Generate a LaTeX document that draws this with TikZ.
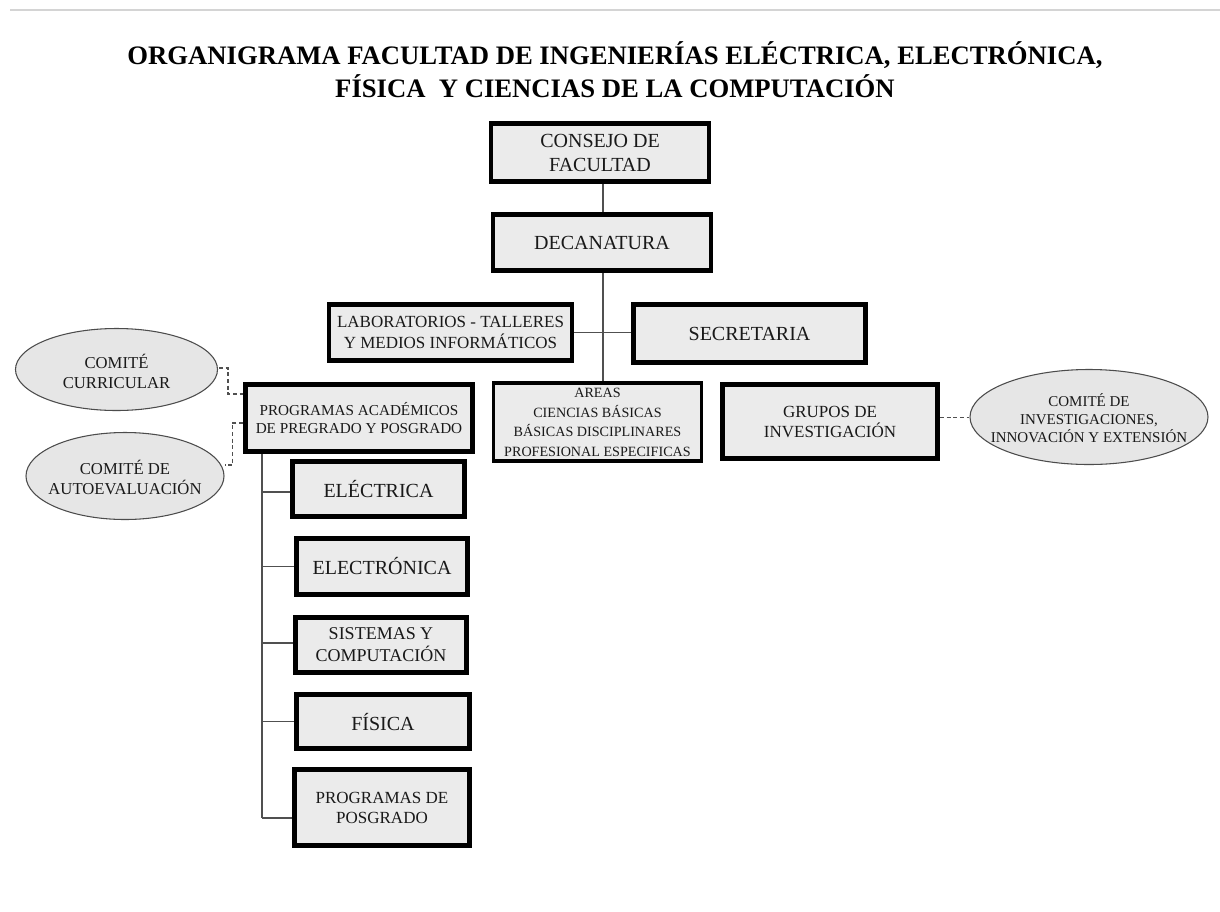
\documentclass[tikz,border=0pt]{standalone}
\usepackage{fontspec}
\setmainfont{Liberation Serif}
\usetikzlibrary{shapes.geometric,calc,backgrounds}
\definecolor{boxfill}{HTML}{EBEBEB}
\definecolor{ellfill}{HTML}{E6E6E6}
\definecolor{linec}{HTML}{505050}
\definecolor{rulec}{HTML}{D4D4D4}
\newcommand{\fsz}[2]{\fontsize{#1pt}{#2pt}\selectfont}
\begin{document}
\begin{tikzpicture}[x=0.75pt,y=-0.75pt,
  orgbox/.style={draw=black, line width=3.6pt, fill=boxfill, align=center, inner sep=0pt, text=black!90},
  comite/.style={ellipse, draw=black!70, line width=0.8pt, fill=ellfill, inner sep=0pt},
  ctext/.style={align=center, inner sep=0pt, text=black!90},
  sz/.style n args={2}{minimum width=#1*0.75pt, minimum height=#2*0.75pt},
  link/.style={draw=linec, line width=0.9pt},
  dlink/.style={draw=linec, line width=0.9pt, dash pattern=on 3pt off 2pt}]
\useasboundingbox (0,0) rectangle (1220,911);

\node[font=\bfseries\fsz{20}{24.75}, align=center, text=black] (title) at (615,69.5)
  {ORGANIGRAMA FACULTAD DE INGENIERÍAS ELÉCTRICA, ELECTRÓNICA,\\FÍSICA~ Y CIENCIAS DE LA COMPUTACIÓN};

% main boxes
\node[orgbox, sz={218}{58}, font=\fsz{15}{18}] (cons) at (600,152.5) {CONSEJO DE\\FACULTAD};
\node[orgbox, sz={218}{56}, font=\fsz{15}{18}] (dec) at (602,242.5) {DECANATURA};
\node[orgbox, sz={243}{56}, font=\fsz{12.75}{15.75}] (lab) at (450.5,332.5) {LABORATORIOS - TALLERES\\Y MEDIOS INFORMÁTICOS};
\node[orgbox, sz={232}{58}, font=\fsz{15}{18}] (sec) at (749.5,333.5) {SECRETARIA};
\node[orgbox, sz={227}{67}, font=\fsz{11.4}{13.5}] (prog) at (359,418) {PROGRAMAS ACADÉMICOS\\DE PREGRADO Y POSGRADO};
\node[orgbox, line width=2.6pt, sz={208}{78}] (areas) at (597.5,422) {};
\node[ctext, font=\fsz{10.6}{14.6}] (areastext) at (597.5,422.5) {AREAS\\CIENCIAS BÁSICAS\\BÁSICAS DISCIPLINARES\\PROFESIONAL ESPECIFICAS};
\node[orgbox, sz={215}{74}, font=\fsz{12.75}{15}] (grupos) at (830,421.5) {GRUPOS DE\\INVESTIGACIÓN};

% program boxes
\node[orgbox, sz={172}{55}, font=\fsz{15}{18}] (elec) at (378.5,489) {ELÉCTRICA};
\node[orgbox, sz={171}{56}, font=\fsz{15}{18}] (elecn) at (382,566.5) {ELECTRÓNICA};
\node[orgbox, sz={171}{55}, font=\fsz{13.5}{16.5}] (sis) at (381,645) {SISTEMAS Y\\COMPUTACIÓN};
\node[orgbox, sz={173}{54}, font=\fsz{15}{18}] (fis) at (383,721.5) {FÍSICA};
\node[orgbox, sz={175}{76}, font=\fsz{12.75}{15}] (pos) at (382,807.5) {PROGRAMAS DE\\POSGRADO};

% committees
\node[comite, sz={202}{82}] (cc) at (116.5,369.5) {};
\node[ctext, font=\fsz{12.5}{15}] (cctext) at ($(cc)+(0,2)$) {COMITÉ\\CURRICULAR};
\node[comite, sz={198}{87}] (ca) at (125,476) {};
\node[ctext, font=\fsz{12.5}{15}] (catext) at ($(ca)+(0,1)$) {COMITÉ DE\\AUTOEVALUACIÓN};
\node[comite, sz={238}{95}] (ce) at (1089,417) {};
\node[ctext, font=\fsz{11.25}{13.5}] (cetext) at ($(ce)+(0,1)$) {COMITÉ DE\\INVESTIGACIONES,\\INNOVACIÓN Y EXTENSIÓN};

\coordinate (trunk) at (603,0);
\coordinate (lspine) at (262,0);

\begin{scope}[on background layer]
\fill[white] (0,0) rectangle (1220,911);
\draw[rulec, line width=1.5pt] (10,10) -- (1220,10);
% trunk
\path[link] (cons.south -| trunk) -- (areas.north -| trunk);
\path[link] (lab.east) -- (lab.east -| sec.west);
% left spine
\path[link] (prog.south -| lspine) -- ($(pos.west -| lspine)+(0,10.5)$);
\path[link] ($(elec.west -| lspine)+(0,3)$) -- ($(elec.west)+(0,3)$);
\path[link] (elecn.west -| lspine) -- (elecn.west);
\path[link] ($(sis.west -| lspine)+(0,-2)$) -- ($(sis.west)+(0,-2)$);
\path[link] (fis.west -| lspine) -- (fis.west);
\path[link] ($(pos.west -| lspine)+(0,10.5)$) -- ($(pos.west)+(0,10.5)$);
% dashed
\path[dlink] ($(cc.east)+(1,-1.5)$) -- ++(9,0) |- ($(prog.west)+(0,-24)$);
\path[dlink] ($(prog.west)+(0,5)$) -- ++(-11,0) |- ($(ca.east)+(0,-11)$);
\path[dlink] ($(grupos.east)+(0,-4)$) -- ($(grupos.east -| ce.west)+(0,-4)$);
\end{scope}
\end{tikzpicture}
\end{document}
